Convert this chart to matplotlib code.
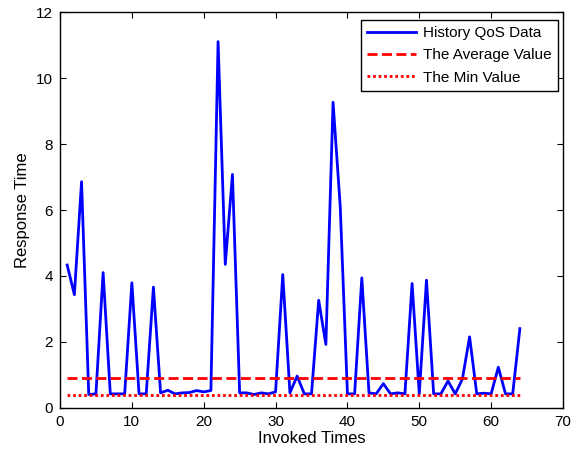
import numpy as np
import matplotlib.pyplot as plt

plt.rcParams['font.family'] = ['Liberation Sans', 'DejaVu Sans']

invoked = np.arange(1, 65)
response = [4.33, 3.43, 6.86, 0.40, 0.42, 4.10, 0.42, 0.42, 0.42, 3.79,
            0.42, 0.42, 3.66, 0.45, 0.53, 0.42, 0.45, 0.46, 0.52, 0.48,
            0.52, 11.11, 4.35, 7.08, 0.45, 0.45, 0.40, 0.45, 0.42, 0.48,
            4.04, 0.45, 0.96, 0.42, 0.42, 3.26, 1.92, 9.27, 6.10, 0.42,
            0.42, 3.94, 0.45, 0.42, 0.73, 0.42, 0.45, 0.42, 3.77, 0.42,
            3.87, 0.42, 0.42, 0.81, 0.42, 0.87, 2.15, 0.42, 0.44, 0.42,
            1.23, 0.42, 0.42, 2.40]
avg_value = 0.90
min_value = 0.40

fig = plt.figure(figsize=(5.82, 4.55), dpi=100)
ax = fig.add_axes([60/582, 1-407.7/455, 503/582, 395.4/455])

ax.plot(invoked, response, color='#0000ff', lw=2, label='History QoS Data')
ax.plot([invoked[0], invoked[-1]], [avg_value, avg_value], color='#ff0000',
        lw=2, linestyle=(0, (3.6, 1.6)), label='The Average Value')
ax.plot([invoked[0], invoked[-1]], [min_value, min_value], color='#ff0000',
        lw=2, linestyle=(0, (1, 1)), label='The Min Value')

ax.set_xlim(0, 70)
ax.set_ylim(0, 12)
ax.set_xticks(range(0, 71, 10))
ax.set_yticks(range(0, 13, 2))
ax.tick_params(direction='in', top=True, right=True, length=4, labelsize=11, pad=5)
for s in ax.spines.values():
    s.set_linewidth(1)

ax.set_xlabel('Invoked Times', fontsize=12, labelpad=2)
ax.set_ylabel('Response Time', fontsize=12, labelpad=4)

leg = ax.legend(loc='upper right', bbox_to_anchor=(0.99, 0.981), borderaxespad=0,
                fancybox=False, framealpha=1, edgecolor='black', fontsize=11,
                handlelength=3.2, handletextpad=0.5, labelspacing=0.55,
                borderpad=0.4)
leg.get_frame().set_linewidth(1)

fig.savefig('out.png', dpi=100)
